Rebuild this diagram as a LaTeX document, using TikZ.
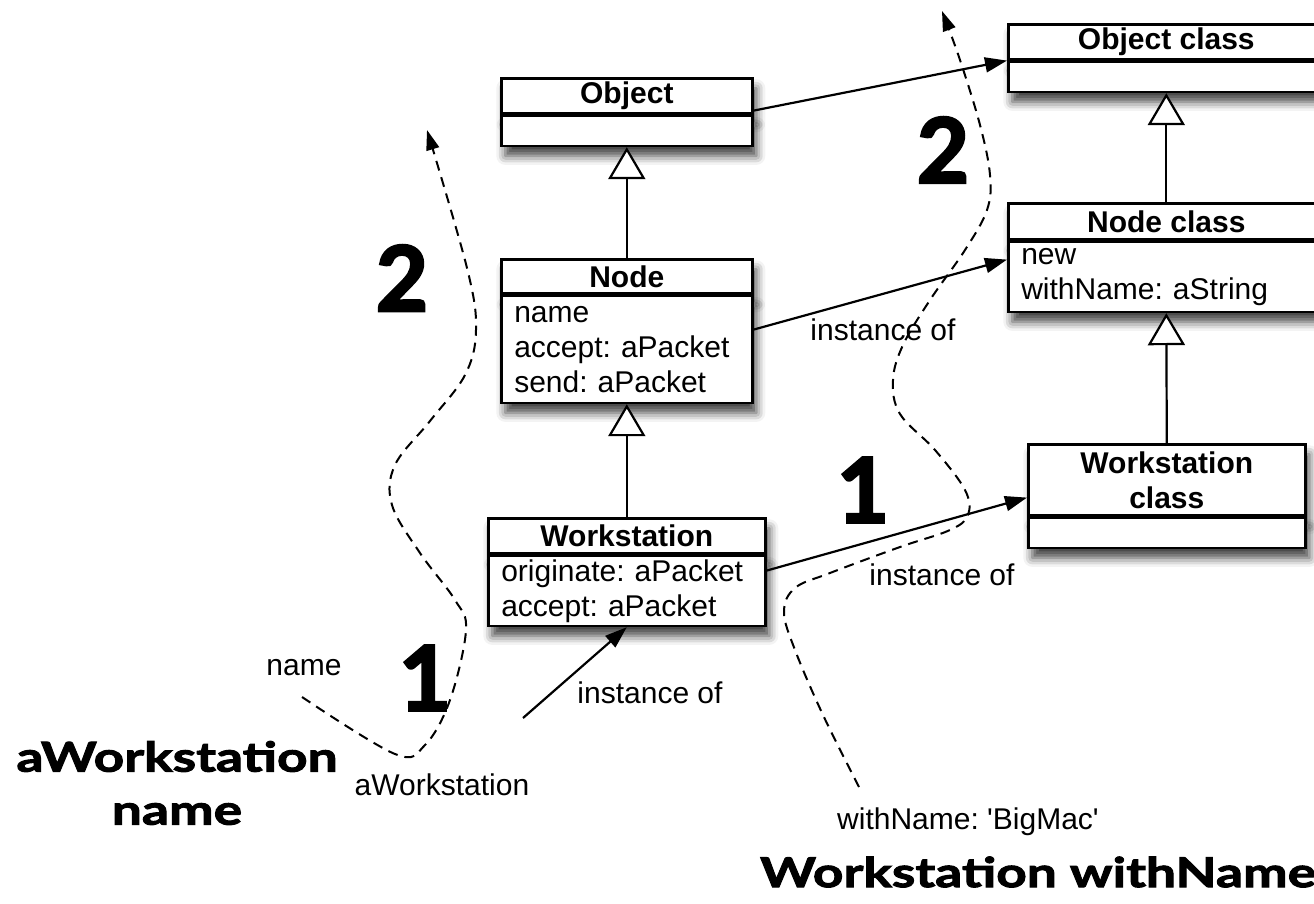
\documentclass[tikz,border=0pt]{standalone}
\usepackage{fontspec}
\setmainfont{Liberation Sans}
\newfontfamily\gillfont{Lato}[FakeStretch=1.3, BoldFeatures={FakeBold=2.5}]
\newfontfamily\digitfont{Lato}[BoldFeatures={FakeBold=3}]
\usetikzlibrary{arrows.meta,shadows.blur,positioning}
\frenchspacing

\tikzset{
  boxshadow/.style={blur shadow={shadow xshift=4pt, shadow yshift=-10pt, shadow blur radius=9pt, shadow opacity=75}},
  classhead/.style={draw, line width=2.6pt, fill=white, anchor=north west, inner sep=0pt,
    align=center, font=\bfseries\fontsize{30}{35}\selectfont, boxshadow},
  classbody/.style={draw, line width=2.6pt, fill=white, anchor=north west, inner xsep=13pt,
    inner ysep=0pt, align=left, font=\fontsize{30}{35}\selectfont, boxshadow},
  inherit/.style={line width=2.2pt, -{Triangle[open, fill=white, length=32pt, width=37pt]}},
  instof/.style={line width=2.2pt, -{Triangle[length=22pt, width=15pt]}},
  msgpath/.style={line width=2pt, dash pattern=on 10pt off 7pt, -{Triangle[length=20pt, width=13pt]}},
  lbl/.style={inner sep=0pt, font=\fontsize{30}{35}\selectfont},
  bigname/.style={inner sep=0pt, align=center, font=\gillfont\bfseries\fontsize{41}{53}\selectfont},
  stepnum/.style={inner sep=0pt, font=\digitfont\bfseries\fontsize{90}{90}\selectfont}
}

\begin{document}
\begin{tikzpicture}[x=1pt, y=-1pt]
\useasboundingbox (0,0) rectangle (1314,904);

% Classes
\node[classhead, minimum width=251pt, minimum height=35pt] (objectH) at (500,77) {Object};
\node[classbody, text width=225pt, minimum height=30pt] (objectB) at (objectH.south west) {};

\node[classhead, minimum width=251pt, minimum height=34pt] (nodeH) at (500,258) {Node};
\node[classbody, text width=225pt, minimum height=107pt] (nodeB) at (nodeH.south west)
  {name\\accept: aPacket\\send: aPacket};

\node[classhead, minimum width=277pt, minimum height=35pt] (wsH) at (487,517) {Workstation};
\node[classbody, text width=251pt, minimum height=70pt] (wsB) at (wsH.south west)
  {originate: aPacket\\accept: aPacket};

% Metaclasses
\node[classhead, minimum width=316pt, minimum height=35pt] (objclassH) at (1007,23) {Object class};
\node[classbody, text width=290pt, minimum height=30pt] (objclassB) at (objclassH.south west) {};

\node[classhead, minimum width=316pt, minimum height=36pt] (nodeclassH) at (1007,202) {Node class};
\node[classbody, text width=290pt, minimum height=70pt] (nodeclassB) at (nodeclassH.south west)
  {new\\withName: aString};

\node[classhead, minimum width=277pt, minimum height=71pt] (wsclassH) at (1027,443) {Workstation\\class};
\node[classbody, text width=251pt, minimum height=30pt] (wsclassB) at (wsclassH.south west) {};

% Inheritance
\draw[inherit] (nodeH.north) -- (objectB.south);
\draw[inherit] (wsH.north) -- (nodeB.south);
\draw[inherit] (nodeclassH.north) -- (objclassB.south);
\draw[inherit] (wsclassH.north) -- (nodeclassB.south);

% Instance of
\draw[instof] ([yshift=4pt]objectH.south east) -- (objclassH.south west);
\draw[instof] ([yshift=-35pt]nodeB.north east) -- ([yshift=-19pt]nodeclassB.north west);
\draw[instof] ([yshift=-16pt]wsB.north east) -- ([yshift=19pt]wsclassH.south west);
\coordinate (wsTail) at (523,718);
\draw[instof] (wsTail) -- (wsB.south);

\node[lbl] (instA) at (883,330) {instance of};
\node[lbl] (instB) at (942,575) {instance of};
\node[lbl] (instC) at (650,693) {instance of};

% Messages
\node[lbl] (nameLbl) at (304,668) {name};
\node[lbl] (aWsLbl) at (442,785) {aWorkstation};
\node[lbl] (bigMacLbl) at (968,822) {withName: \textquotesingle BigMac\textquotesingle};

\node[bigname] (aWsBig) at (177,783) {aWorkstation\\name};
\node[bigname] (wsWithName) at (1038,872) {Workstation withName};

\node[stepnum] (stepA) at (425,678) {1};
\node[stepnum] (stepB) at (402,278) {2};
\node[stepnum] (stepC) at (863,490) {1};
\node[stepnum] (stepD) at (943,150) {2};

% Dashed lookup paths
\coordinate (leftStart) at (302,697);
\coordinate (leftTip) at (427,130);
\draw[msgpath] plot[smooth, tension=0.6] coordinates {(leftStart) (395,754) (425,745) (450,700)
  (466,630) (455,600) (420,553) (392,505) (395,465) (430,421) (465,375) (476,330) (467,268) (leftTip)};

\coordinate (rightStart) at (859,787);
\coordinate (rightTip) at (942,11);
\draw[msgpath] plot[smooth, tension=0.6] coordinates {(rightStart) (823,715) (795,650) (784,612)
  (795,588) (830,573) (900,547) (950,530) (968,515) (965,490) (935,450) (900,414) (893,380)
  (903,345) (930,300) (965,250) (987,210) (990,175) (980,125) (960,60) (rightTip)};

\end{tikzpicture}
\end{document}
